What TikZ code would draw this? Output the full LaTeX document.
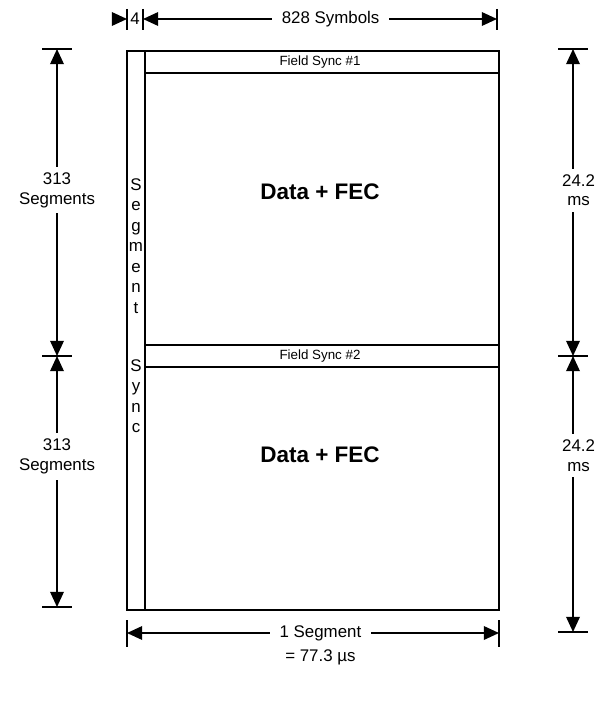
\documentclass[tikz,border=0pt]{standalone}
\usepackage{fontspec}
\setmainfont{Liberation Sans}
\usetikzlibrary{arrows.meta,positioning,calc}

\begin{document}
\begin{tikzpicture}[x=0.025cm,y=-0.025cm,font=\fontsize{12}{14}\selectfont]
  \tikzset{dim/.style={{Triangle[length=0.38cm,width=0.34cm]}-{Triangle[length=0.38cm,width=0.34cm]}, line width=1.2pt},
    half/.style={-{Triangle[length=0.38cm,width=0.34cm]}, line width=1.2pt},
    tick/.style={line width=0.8pt},
    lbl/.style={fill=white, inner xsep=7pt, inner ysep=4pt, align=center},
    sync/.style={font=\fontsize{9.5}{10}\selectfont},
    big/.style={font=\fontsize{16}{18}\selectfont\bfseries}}
  \useasboundingbox (0,0) rectangle (599,702);
  \draw[line width=1pt] (127,51) rectangle (499,610);
  \draw[line width=1.7pt] (145,51) -- (145,610);
  \draw[line width=1pt] (145,73) -- (499,73);
  \draw[line width=1pt] (145,345) -- (499,345);
  \draw[line width=1pt] (145,367) -- (499,367);
  \node[sync] (fs1) at (320,62) {Field Sync \#1};
  \node[sync] (fs2) at (320,356) {Field Sync \#2};
  \node[big] (d1) at (320,192) {Data + FEC};
  \node[big] (d2) at (320,455) {Data + FEC};
  \node[align=center, inner sep=0pt, font=\fontsize{12}{14.6}\selectfont] (seg) at (136,246) {S\\e\\g\\m\\e\\n\\t};
  \node[align=center, inner sep=0pt, font=\fontsize{12}{14.6}\selectfont] (syn) at (136,396) {S\\y\\n\\c};
  % top
  \draw[tick] (127,9) -- (127,30);
  \draw[tick] (143,9) -- (143,30);
  \draw[tick] (497,9) -- (497,30);
  \coordinate (tl) at (113,19);
  \coordinate (t0) at (127,19);
  \coordinate (t1) at (143,19);
  \coordinate (t2) at (497,19);
  \draw[half] (tl) -- (t0);
  \node (four) at (135,19) {4};
  \draw[dim] (t1) -- (t2) node[lbl, pos=0.53] (sym) {828 Symbols};
  % left
  \draw[tick] (42,49) -- (72,49);
  \draw[tick] (42,356) -- (72,356);
  \draw[tick] (42,607) -- (72,607);
  \coordinate (l0) at (57,49);
  \coordinate (l1) at (57,356);
  \coordinate (l2) at (57,607);
  \draw[dim] (l0) -- (l1) node[lbl, pos=0.46] (ls1) {313\\Segments};
  \draw[dim] (l1) -- (l2) node[lbl, pos=0.4] (ls2) {313\\Segments};
  % right
  \draw[tick] (558,49) -- (588,49);
  \draw[tick] (558,356) -- (588,356);
  \draw[tick] (558,632) -- (588,632);
  \coordinate (r0) at (573,49);
  \coordinate (r1) at (573,356);
  \coordinate (r2) at (573,632);
  \draw[dim] (r0) -- (r1) node[lbl, pos=0.46, xshift=4pt] (rs1) {24.2\\ms};
  \draw[dim] (r1) -- (r2) node[lbl, pos=0.36, xshift=4pt] (rs2) {24.2\\ms};
  % bottom
  \draw[tick] (127,620) -- (127,647);
  \draw[tick] (499,620) -- (499,647);
  \coordinate (b0) at (127,633);
  \coordinate (b1) at (499,633);
  \draw[dim] (b0) -- (b1) node[lbl, pos=0.52] (bs) {1 Segment};
  \node[below=-2pt of bs] (bus) {= 77.3 µs};
\end{tikzpicture}
\end{document}
